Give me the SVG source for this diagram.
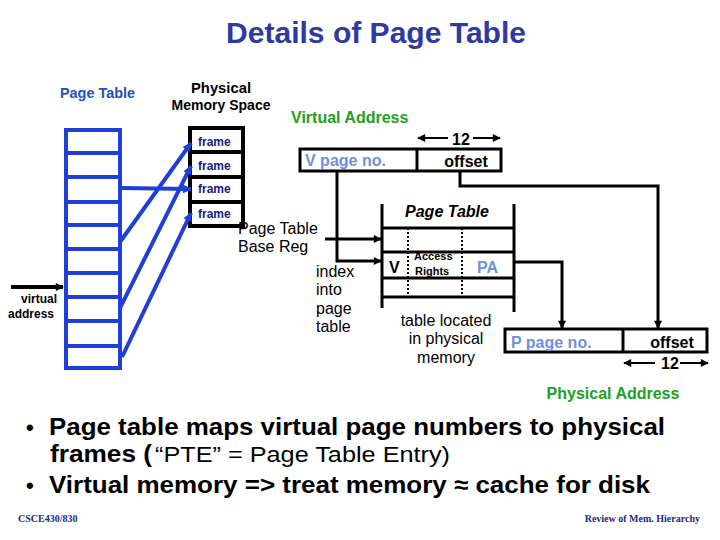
<svg xmlns="http://www.w3.org/2000/svg" width="720" height="540" viewBox="0 0 720 540">
<style>
.t{font-family:"Liberation Sans",Arial,sans-serif}
.b{font-weight:bold}
.blk{stroke:#000;stroke-width:3;fill:none}
.blu{stroke:#1f3fd6;stroke-width:4;fill:none}
.lb{fill:#6f8fe0}
.gr{fill:#22a022}
.hatch{stroke:#000;stroke-width:2;stroke-dasharray:2 2;fill:none}
</style>
<defs>
<marker id="ahk" viewBox="0 0 10 10" refX="9" refY="5" markerWidth="9" markerHeight="8" orient="auto" markerUnits="userSpaceOnUse"><path d="M0,0 L10,5 L0,10 z" fill="#000"/></marker>
<marker id="ahb" viewBox="0 0 10 10" refX="9" refY="5" markerWidth="10" markerHeight="9" orient="auto" markerUnits="userSpaceOnUse"><path d="M0,0 L10,5 L0,10 z" fill="#1f3fd6"/></marker>
</defs>
<rect width="720" height="540" fill="#fff"/>
<text class="t b" x="376" y="43" font-size="30" text-anchor="middle" fill="#2e3aa0" textLength="300" lengthAdjust="spacingAndGlyphs">Details of Page Table</text>

<g id="left-page-table">
<text class="t b" x="60" y="98" font-size="14" fill="#2050c0" textLength="75" lengthAdjust="spacingAndGlyphs">Page Table</text>
<rect x="66" y="130" width="54" height="238" class="blu"/>
<path class="blu" d="M66,153H120M66,177H120M66,202H120M66,225H120M66,249H120M66,273H120M66,297H120M66,321H120M66,346H120"/>
</g>

<g id="physical-memory">
<text class="t b" x="221" y="93" font-size="14" text-anchor="middle" textLength="60" lengthAdjust="spacingAndGlyphs">Physical</text>
<text class="t b" x="221" y="110" font-size="14" text-anchor="middle" textLength="99" lengthAdjust="spacingAndGlyphs">Memory Space</text>
<rect x="190" y="128" width="53" height="98" fill="#fff" stroke="#000" stroke-width="4"/>
<path d="M190,152H243M190,177H243M190,202H243" stroke="#000" stroke-width="4"/>
<g class="t b" font-size="12" fill="#1a1a80">
<text x="198" y="146">frame</text>
<text x="198" y="170">frame</text>
<text x="198" y="193">frame</text>
<text x="198" y="218">frame</text>
</g>
</g>

<g id="virtual-addr-label">
<text class="t b" x="291" y="123" font-size="16" fill="#22a022">Virtual Address</text>
<text class="t b" x="39" y="303" font-size="12" text-anchor="middle">virtual</text>
<text class="t b" x="31" y="318" font-size="12" text-anchor="middle">address</text>
</g>

<g id="virtual-address">
<rect x="300" y="149" width="201" height="22" class="blk"/>
<line x1="417" y1="149" x2="417" y2="171" stroke="#000" stroke-width="3"/>
<text class="t b lb" x="305" y="166" font-size="16">V page no.</text>
<text class="t b" x="466" y="167" font-size="16" text-anchor="middle">offset</text>
<text class="t b" x="461" y="145" font-size="16" text-anchor="middle">12</text>
</g>

<g id="page-table-base-reg">
<text class="t" x="238" y="234" font-size="16">Page Table</text>
<text class="t" x="238" y="252" font-size="16">Base Reg</text>
</g>

<g id="index-label" class="t" font-size="16">
<text x="316" y="277">index</text>
<text x="316" y="295">into</text>
<text x="316" y="314">page</text>
<text x="316" y="332">table</text>
</g>

<g id="page-table">
<text class="t b" x="447" y="217" font-size="16" font-style="italic" text-anchor="middle">Page Table</text>
<path d="M382,204V308M514,204V312M382,228H514M382,252H514M382,278H514M382,297H514" stroke="#000" stroke-width="3" fill="none"/>
<path class="hatch" d="M408,228V297M462,228V297"/>
<text class="t b" x="389" y="273" font-size="16">V</text>
<text class="t b" x="414" y="260" font-size="11">Access</text>
<text class="t b" x="415" y="275" font-size="11">Rights</text>
<text class="t b lb" x="477" y="273" font-size="16">PA</text>
<text class="t" x="446" y="326" font-size="16" text-anchor="middle">table located</text>
<text class="t" x="446" y="344" font-size="16" text-anchor="middle">in physical</text>
<text class="t" x="446" y="363" font-size="16" text-anchor="middle">memory</text>
</g>

<g id="physical-address">
<rect x="505" y="329" width="202" height="23" class="blk"/>
<line x1="623" y1="329" x2="623" y2="352" stroke="#000" stroke-width="3"/>
<text class="t b lb" x="511" y="348" font-size="16">P page no.</text>
<text class="t b" x="672" y="348" font-size="16" text-anchor="middle">offset</text>
<text class="t b" x="670" y="369" font-size="16" text-anchor="middle">12</text>
<text class="t b" x="613" y="399" font-size="16" text-anchor="middle" fill="#22a022">Physical Address</text>
</g>

<g id="connectors">
<path class="blu" marker-end="url(#ahb)" d="M120,242L191,143"/>
<path class="blu" marker-end="url(#ahb)" d="M120,188L191,189"/>
<path class="blu" marker-end="url(#ahb)" d="M120,308L191,166"/>
<path class="blu" marker-end="url(#ahb)" d="M122,357L191,213"/>
<path stroke="#000" stroke-width="4" fill="none" marker-end="url(#ahk)" d="M11,287H63"/>
<path stroke="#000" stroke-width="2" fill="none" marker-end="url(#ahk)" d="M448,138H418"/>
<path stroke="#000" stroke-width="2" fill="none" marker-end="url(#ahk)" d="M473,138H500"/>
<path stroke="#000" stroke-width="2" fill="none" marker-end="url(#ahk)" d="M655,363H624"/>
<path stroke="#000" stroke-width="2" fill="none" marker-end="url(#ahk)" d="M680,363H708"/>
<path class="blk" marker-end="url(#ahk)" d="M337,171V261H381"/>
<path class="blk" marker-end="url(#ahk)" d="M325,239H381"/>
<path class="blk" marker-end="url(#ahk)" d="M460,171V186H658V328"/>
<path class="blk" marker-end="url(#ahk)" d="M514,262H562V328"/>
</g>

<g id="bullets" class="t">
<text x="26" y="435" font-size="22" font-weight="bold">•</text>
<text x="49" y="435" font-size="24" font-weight="bold" textLength="616" lengthAdjust="spacingAndGlyphs">Page table maps virtual page numbers to physical</text>
<text x="50" y="462" font-size="24" font-weight="bold" textLength="102" lengthAdjust="spacingAndGlyphs">frames (</text>
<text x="155" y="462" font-size="22" textLength="295" lengthAdjust="spacingAndGlyphs">“PTE” = Page Table Entry)</text>
<text x="26" y="493" font-size="22" font-weight="bold">•</text>
<text x="49" y="493" font-size="24" font-weight="bold" textLength="601" lengthAdjust="spacingAndGlyphs">Virtual memory =&gt; treat memory ≈ cache for disk</text>
</g>

<g id="footer" font-family="'Liberation Serif',serif" font-size="10" font-weight="bold" fill="#1a2a80">
<text x="18" y="522">CSCE430/830</text>
<text x="700" y="522" text-anchor="end">Review of Mem. Hierarchy</text>
</g>
</svg>
